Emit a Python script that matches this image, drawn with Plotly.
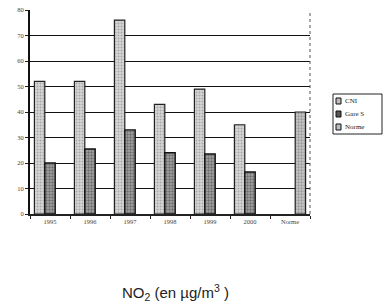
import plotly.graph_objects as go

categories = ["1995", "1996", "1997", "1998", "1999", "2000", "Norme"]
cn_values = [52, 52, 76, 43, 49, 35, None]
gare_values = [20, 25.5, 33, 24, 23.5, 16.5, None]
norme_values = [None, None, None, None, None, None, 40]
series_names = ["CNI", "Gare S", "Norme"]
y_ticks = [0, 10, 20, 30, 40, 50, 60, 70, 80]

styles = [
    dict(color="#d0d0d0", line=dict(color="#222", width=1.2),
         pattern=dict(shape=".", fgcolor="#777", bgcolor="#d8d8d8", size=3, solidity=0.4)),
    dict(color="#8a8a8a", line=dict(color="#111", width=1.4),
         pattern=dict(shape=".", fgcolor="#333", bgcolor="#a8a8a8", size=3, solidity=0.5)),
    dict(color="#c0c0c0", line=dict(color="#222", width=1.2),
         pattern=dict(shape=".", fgcolor="#666", bgcolor="#c8c8c8", size=3, solidity=0.45)),
]
symbol_fill = ["#bdbdbd", "#555555", "#bdbdbd"]

fig = go.Figure()
for name, vals, st in zip(series_names, [cn_values, gare_values, norme_values], styles):
    fig.add_trace(go.Bar(x=categories, y=vals, name=name, marker=st, showlegend=False))

# plot area in pixels: x 30..310, y 10..214
def px(xp):
    return (xp - 30) / 280.0

def py(yp):
    return (214 - yp) / 204.0

shapes = [dict(type="line", xref="paper", yref="paper", x0=1, x1=1, y0=0, y1=1,
               line=dict(color="#555", width=1, dash="dot")),
          dict(type="rect", xref="paper", yref="paper", x0=px(333), x1=px(382),
               y0=py(134), y1=py(94), line=dict(color="#222", width=1), fillcolor="white")]
annotations = [dict(text="NO<sub>2</sub> (en µg/m<sup>3</sup> )", xref="paper", yref="paper",
                    x=0.52, y=py(292), xanchor="center", yanchor="middle", showarrow=False,
                    font=dict(family="Liberation Sans", size=15, color="#222"))]
row_y = [101, 114, 127]
for name, ry, fill in zip(series_names, row_y, symbol_fill):
    shapes.append(dict(type="rect", xref="paper", yref="paper", x0=px(336), x1=px(341),
                       y0=py(ry + 3), y1=py(ry - 3), line=dict(color="#111", width=1),
                       fillcolor=fill))
    annotations.append(dict(text=name, xref="paper", yref="paper", x=px(343), y=py(ry),
                            xanchor="left", yanchor="middle", showarrow=False,
                            font=dict(family="Liberation Serif", size=7, color="#222")))

fig.update_layout(
    width=383, height=307,
    margin=dict(l=30, r=73, t=10, b=93, autoexpand=False),
    paper_bgcolor="white", plot_bgcolor="white",
    barmode="group", bargap=0.22, bargroupgap=0,
    font=dict(family="Liberation Serif", size=7, color="#333"),
    showlegend=False,
    xaxis=dict(type="category", showline=True, linecolor="#222", linewidth=1.5,
               ticks="outside", tickson="boundaries", ticklen=3, tickcolor="#222",
               mirror=False, tickfont=dict(size=6.5, color="#444")),
    yaxis=dict(range=[0, 80], tickvals=y_ticks, showgrid=True, gridcolor="#111",
               gridwidth=1.2, showline=True, linecolor="#111", linewidth=2,
               ticks="outside", ticklen=3, tickcolor="#222", zeroline=False,
               tickfont=dict(size=6.5, color="#444")),
    shapes=shapes,
    annotations=annotations,
)

fig.write_html("out.html", config={"displayModeBar": False},
               post_script="document.body.style.margin='0';document.body.style.overflow='hidden';")
